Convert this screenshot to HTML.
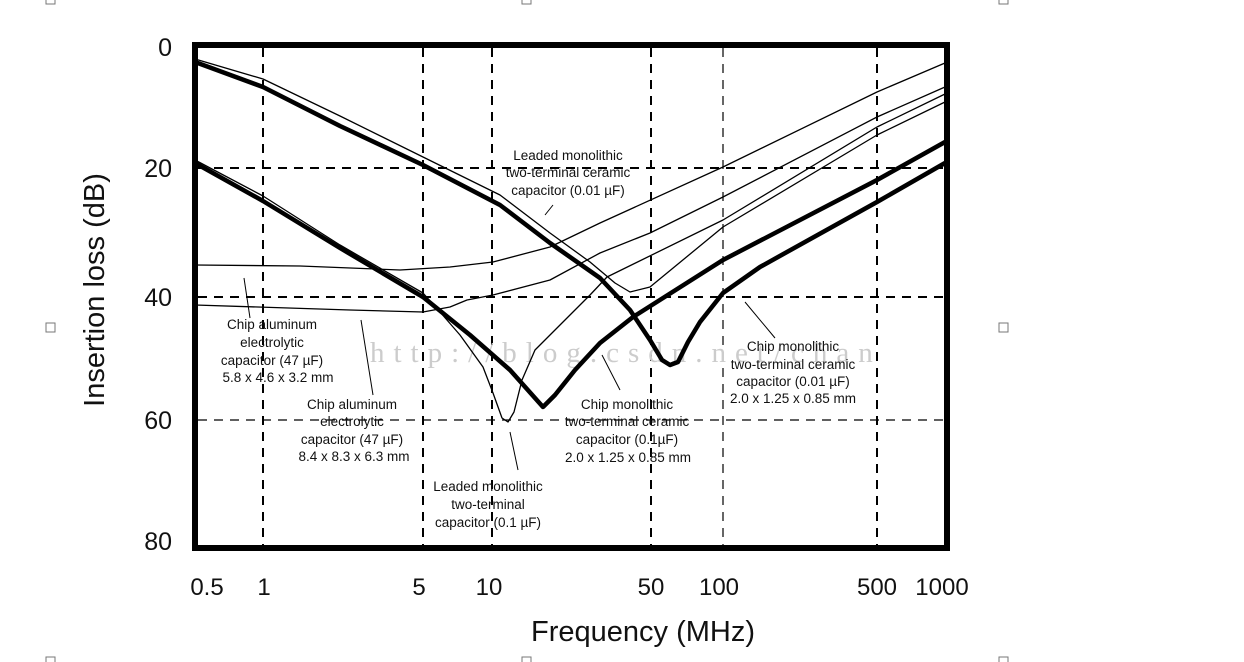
<!DOCTYPE html>
<html><head><meta charset="utf-8"><style>
html,body{margin:0;padding:0;background:#fff;}
svg{display:block;}
text{font-family:"Liberation Sans",Arial,sans-serif;}
.a{font-size:13.5px;fill:#111;text-anchor:middle;}
</style></head><body>
<svg width="1244" height="662" viewBox="0 0 1244 662" xmlns="http://www.w3.org/2000/svg">
<rect width="1244" height="662" fill="#fff"/>
<g stroke="#000" stroke-width="2" stroke-dasharray="9,7" fill="none">
<line x1="263" y1="48" x2="263" y2="546"/>
<line x1="423" y1="48" x2="423" y2="546"/>
<line x1="492" y1="48" x2="492" y2="546"/>
<line x1="651" y1="48" x2="651" y2="546"/>
<line x1="877" y1="48" x2="877" y2="546"/>
<line x1="198" y1="168" x2="944" y2="168"/>
<line x1="198" y1="297" x2="944" y2="297"/>
</g>
<g stroke="#000" stroke-width="1.2" stroke-dasharray="9,7" fill="none">
<line x1="723" y1="48" x2="723" y2="546"/>
<line x1="198" y1="420" x2="944" y2="420"/>
</g>
<text x="370" y="362" font-size="29" fill="#ccc" letter-spacing="9" style="font-family:'Liberation Serif',serif">http://blog.csdn.net/chan</text>
<g fill="none" stroke="#000" stroke-width="1.3" stroke-linejoin="round">
<polyline points="195,265 300,266 400,270 450,267 493,262 550,247 600,223 723,167 877,92 945,63"/>
<polyline points="195,305 350,310 423,312 450,307 467,300 493,295 550,280 600,253 650,233 723,197 877,117 945,87"/>
<polyline points="195,160 263,196 340,245 423,293 440,312 460,335 483,367 493,393 502,418 508,422 514,412 522,380 535,350 560,325 590,295 607,277 723,220 877,127 945,94"/>
<polyline points="195,59 263,79 340,116 423,157 500,195 550,233 590,262 615,283 630,292 650,287 723,227 877,135 945,102"/>
</g>
<g fill="none" stroke="#000" stroke-width="4.5" stroke-linejoin="round">
<polyline points="195,62 263,87 340,126 423,165 500,205 550,243 600,278 630,310 650,340 662,360 670,365 678,362 688,342 700,322 723,293 760,267 877,202 945,163"/>
<polyline points="195,163 263,201 340,248 423,297 470,335 510,370 543,407 555,395 575,370 600,343 633,317 723,260 877,180 945,142"/>
</g>
<g stroke="#000" stroke-width="1" fill="none">
<line x1="244" y1="278" x2="250" y2="318"/>
<line x1="361" y1="320" x2="373" y2="395"/>
<line x1="510" y1="432" x2="518" y2="470"/>
<line x1="602" y1="355" x2="620" y2="390"/>
<line x1="745" y1="302" x2="775" y2="338"/>
<line x1="553" y1="205" x2="545" y2="215"/>
</g>
<rect x="195" y="45" width="752" height="503" fill="none" stroke="#000" stroke-width="6"/>
<text class="a" x="568" y="160">Leaded monolithic</text>
<text class="a" x="568" y="177">two-terminal ceramic</text>
<text class="a" x="568" y="195">capacitor (0.01 µF)</text>
<text class="a" x="272" y="329">Chip aluminum</text>
<text class="a" x="272" y="347">electrolytic</text>
<text class="a" x="272" y="365">capacitor (47 µF)</text>
<text class="a" x="278" y="382">5.8 x 4.6 x 3.2 mm</text>
<text class="a" x="352" y="409">Chip aluminum</text>
<text class="a" x="352" y="426">electrolytic</text>
<text class="a" x="352" y="444">capacitor (47 µF)</text>
<text class="a" x="354" y="461">8.4 x 8.3 x 6.3 mm</text>
<text class="a" x="488" y="491">Leaded monolithic</text>
<text class="a" x="488" y="509">two-terminal</text>
<text class="a" x="488" y="527">capacitor (0.1 µF)</text>
<text class="a" x="627" y="409">Chip monolithic</text>
<text class="a" x="627" y="426">two-terminal ceramic</text>
<text class="a" x="627" y="444">capacitor (0.1µF)</text>
<text class="a" x="628" y="462">2.0 x 1.25 x 0.85 mm</text>
<text class="a" x="793" y="351">Chip monolithic</text>
<text class="a" x="793" y="369">two-terminal ceramic</text>
<text class="a" x="793" y="386">capacitor (0.01 µF)</text>
<text class="a" x="793" y="403">2.0 x 1.25 x 0.85 mm</text>
<g font-size="25" text-anchor="end" fill="#111">
<text x="172" y="56">0</text>
<text x="172" y="177">20</text>
<text x="172" y="306">40</text>
<text x="172" y="429">60</text>
<text x="172" y="550">80</text>
</g>
<text x="104" y="290" font-size="29" text-anchor="middle" fill="#111" transform="rotate(-90 104 290)">Insertion loss (dB)</text>
<g font-size="24" text-anchor="middle" fill="#111">
<text x="207" y="595">0.5</text>
<text x="264" y="595">1</text>
<text x="419" y="595">5</text>
<text x="489" y="595">10</text>
<text x="651" y="595">50</text>
<text x="719" y="595">100</text>
<text x="877" y="595">500</text>
<text x="942" y="595">1000</text>
</g>
<text x="643" y="641" font-size="29" text-anchor="middle" fill="#111">Frequency (MHz)</text>
<g fill="none" stroke="#777" stroke-width="1">
<rect x="46" y="323" width="9" height="9"/>
<rect x="999" y="323" width="9" height="9"/>
<rect x="46" y="657" width="9" height="9"/>
<rect x="522" y="657" width="9" height="9"/>
<rect x="999" y="657" width="9" height="9"/>
<rect x="46" y="-5" width="9" height="9"/>
<rect x="522" y="-5" width="9" height="9"/>
<rect x="999" y="-5" width="9" height="9"/>
</g>
</svg>
</body></html>
